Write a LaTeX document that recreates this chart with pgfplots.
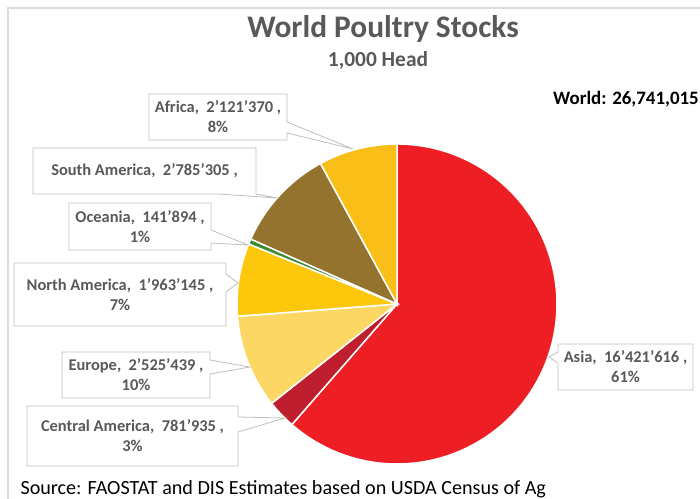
\documentclass[border=0pt]{standalone}
\usepackage{pgfplots}
\pgfplotsset{compat=1.18}
\usepackage{fontspec}
\setmainfont{Carlito}
\definecolor{cAsia}{HTML}{ED1F24}
\definecolor{cCA}{HTML}{BE1E2D}
\definecolor{cEU}{HTML}{FDD764}
\definecolor{cNA}{HTML}{FDC70C}
\definecolor{cOC}{HTML}{3C8C33}
\definecolor{cSA}{HTML}{94732E}
\definecolor{cAF}{HTML}{F9BE18}
\definecolor{cTxt}{HTML}{595959}
\definecolor{cBox}{HTML}{BFBFBF}
\definecolor{cFrame}{HTML}{DCDCDC}
\newcommand\slice[3]{\addplot[fill=#3, draw=white, line width=1.5bp, domain=#1:#2, samples=90, variable=\t] ({397+160*sin(\t)},{304-160*cos(\t)}) -- (397,304) -- cycle;}
\begin{document}
\begin{tikzpicture}
\path[use as bounding box] (0,0) rectangle (700bp,499bp);
\clip (0,0) rectangle (700bp,499bp);
% values in millions of head
\def\vAsia{16.421616}
\def\vCA{0.781935}
\def\vEU{2.525439}
\def\vNA{1.963145}
\def\vOC{0.141894}
\def\vSA{2.785305}
\def\vAF{2.121370}
\pgfmathsetmacro{\tot}{\vAsia+\vCA+\vEU+\vNA+\vOC+\vSA+\vAF}
\pgfmathsetmacro{\aA}{360*\vAsia/\tot}
\pgfmathsetmacro{\aB}{\aA+360*\vCA/\tot}
\pgfmathsetmacro{\aC}{\aB+360*\vEU/\tot}
\pgfmathsetmacro{\aD}{\aC+360*\vNA/\tot}
\pgfmathsetmacro{\aE}{\aD+360*\vOC/\tot}
\pgfmathsetmacro{\aF}{\aE+360*\vSA/\tot}
\begin{axis}[at={(0,0)}, anchor=south west, scale only axis, width=700bp, height=499bp,
  xmin=0, xmax=700, ymin=0, ymax=499, y dir=reverse, hide axis, clip=false]
\slice{0}{\aA}{cAsia}
\slice{\aA}{\aB}{cCA}
\slice{\aB}{\aC}{cEU}
\slice{\aC}{\aD}{cNA}
\slice{\aD}{\aE}{cOC}
\slice{\aE}{\aF}{cSA}
\slice{\aF}{360}{cAF}
% frame
\draw[cFrame, line width=2bp] (8,499) -- (8,8) -- (700,8);
% titles
\node[anchor=base, font=\fontsize{31.5}{36}\selectfont\bfseries, text=cTxt] at (383,38) {World Poultry Stocks};
\node[anchor=base, font=\fontsize{21.5}{25}\selectfont\bfseries, text=cTxt] at (378,67) {1,000 Head};
\node[anchor=base east, inner xsep=0pt, font=\fontsize{19}{23}\selectfont\bfseries, text=black] at (699,104) {World: 26,741,015};
\node[anchor=base west, font=\fontsize{20.2}{24}\selectfont, text=black] at (17,494) {Source: FAOSTAT and DIS Estimates based on USDA Census of Ag};
% callouts
\tikzset{co/.style={draw=cBox, fill=white, line width=0.8bp}, lb/.style={font=\fontsize{16.5}{20}\selectfont\bfseries, text=cTxt, align=center}}
\draw[co] (149,94) -- (287,94) -- (287,122) -- (353,149) -- (287,133) -- (287,140) -- (149,140) -- cycle;
\node[lb] at (218,117) {Africa,\ \ 2’121’370 ,\\8\%};
\draw[co] (33,148) -- (256,148) -- (256,194) -- (277,198) -- (218,194) -- (33,194) -- cycle;
\node[lb] at (144.5,171) {South America,\ \ 2’785’305 ,};
\draw[co] (69,203) -- (211,203) -- (211,230) -- (248,245) -- (211,243) -- (211,250) -- (69,250) -- cycle;
\node[lb] at (140,226.5) {Oceania,\ \ 141’894 ,\\1\%};
\draw[co] (14,263) -- (226,263) -- (226,274) -- (238,283) -- (226,292) -- (226,326) -- (14,326) -- cycle;
\node[lb] at (120,294.5) {North America,\ \ 1’963’145 ,\\7\%};
\draw[co] (62,352) -- (210,352) -- (210,360) -- (250,367) -- (210,374) -- (210,398) -- (62,398) -- cycle;
\node[lb] at (136,375) {Europe,\ \ 2’525’439 ,\\10\%};
\draw[co] (27,406) -- (238,406) -- (238,417) -- (285,418) -- (238,432) -- (238,466) -- (27,466) -- cycle;
\node[lb] at (132.5,436) {Central America,\ \ 781’935 ,\\3\%};
\draw[co] (558,344) -- (693,344) -- (693,390) -- (558,390) -- (558,363) -- (549,357) -- (558,352) -- cycle;
\node[lb] at (625.5,367) {Asia,\ \ 16’421’616 ,\\61\%};
\end{axis}
\end{tikzpicture}
\end{document}
